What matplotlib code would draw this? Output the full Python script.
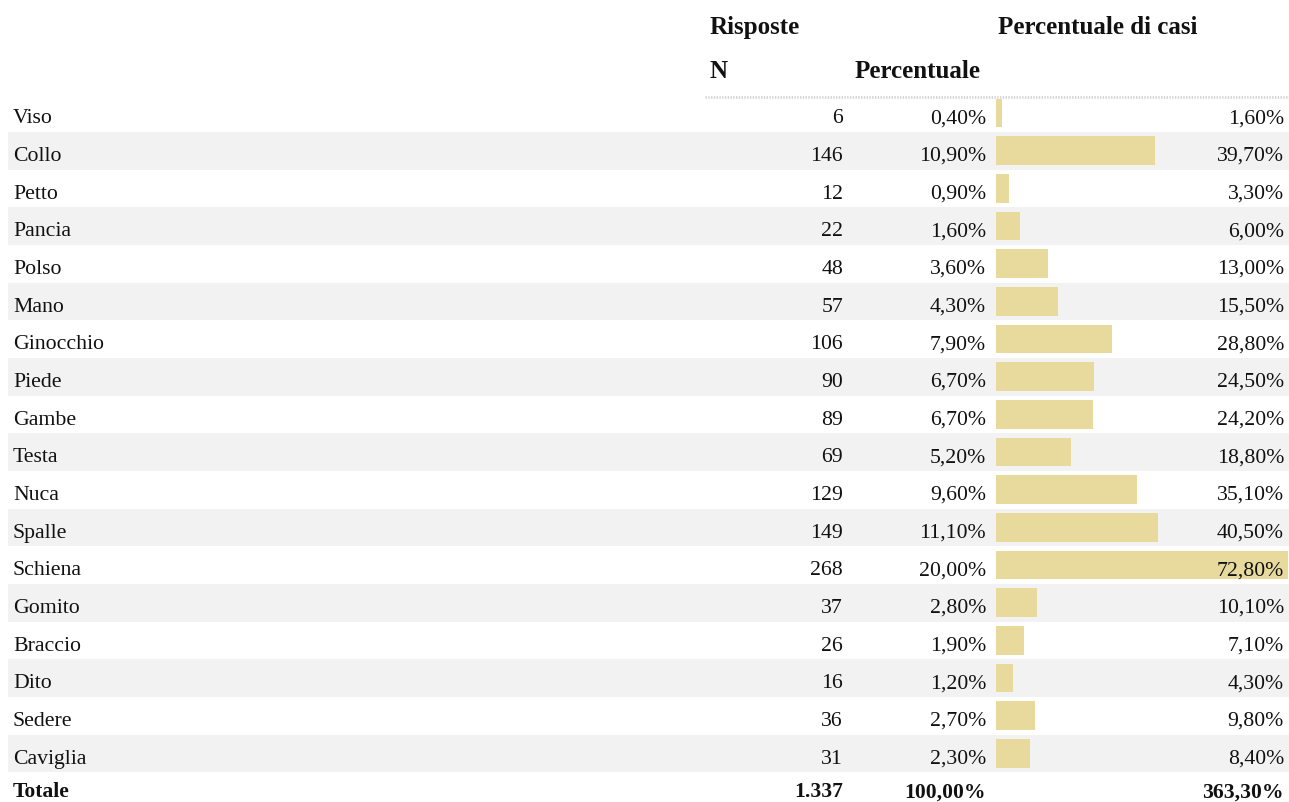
import matplotlib
matplotlib.use("Agg")
import matplotlib.pyplot as plt

plt.rcParams['font.family'] = ['Liberation Serif', 'DejaVu Serif']

parts = ["Viso", "Collo", "Petto", "Pancia", "Polso", "Mano", "Ginocchio", "Piede",
         "Gambe", "Testa", "Nuca", "Spalle", "Schiena", "Gomito", "Braccio", "Dito",
         "Sedere", "Caviglia"]
n_resp = [6, 146, 12, 22, 48, 57, 106, 90, 89, 69, 129, 149, 268, 37, 26, 16, 36, 31]
pct_resp = [0.40, 10.90, 0.90, 1.60, 3.60, 4.30, 7.90, 6.70, 6.70, 5.20, 9.60, 11.10,
            20.00, 2.80, 1.90, 1.20, 2.70, 2.30]
pct_cases = [1.60, 39.70, 3.30, 6.00, 13.00, 15.50, 28.80, 24.50, 24.20, 18.80, 35.10,
             40.50, 72.80, 10.10, 7.10, 4.30, 9.80, 8.40]
total_label = "Totale"
total_n = "1.337"
total_pct = "100,00%"
total_cases = "363,30%"


def fmt_pct(v):
    return f"{v:.2f}".replace(".", ",") + "%"


W, H = 1289, 802
row_h = 37.67
first_row = 113
top = -first_row / row_h
bottom = (H - first_row) / row_h

fig = plt.figure(figsize=(W / 100, H / 100), dpi=100)

# layer 0: row stripes
bg = fig.add_axes([0, 0, 1, 1], zorder=0)
bg.set_xlim(0, W)
bg.set_ylim(bottom, top)
bg.axis("off")
for i in range(len(parts)):
    if i % 2 == 1:
        bg.axhspan(i - 0.5, i + 0.5, xmin=8 / W, xmax=1, color="#f2f2f2", lw=0)

# layer 1: bars
bx = fig.add_axes([996 / W, 0, (1288 - 996) / W, 1], zorder=1)
bx.patch.set_alpha(0)
bx.set_xlim(0, max(pct_cases))
bx.set_ylim(bottom, top)
bx.axis("off")
bx.barh(range(len(parts)), pct_cases, height=0.76, color="#e8da9d", lw=0)

# layer 2: text
ax = fig.add_axes([0, 0, 1, 1], zorder=2)
ax.patch.set_alpha(0)
ax.set_xlim(0, W)
ax.set_ylim(bottom, top)
ax.axis("off")

txt = "#111111"
fs = 15.7   # body
fh = 18     # header
ft = 15.6   # total row
base = 0.273  # baseline offset below row centre

# header
ax.text(710, -2.089, "Risposte", fontsize=fh, fontweight="bold", color=txt, va="baseline")
ax.text(998, -2.089, "Percentuale di casi", fontsize=fh, fontweight="bold", color=txt, va="baseline")
ax.text(710, -0.921, "N", fontsize=fh, fontweight="bold", color=txt, va="baseline")
ax.text(855, -0.921, "Percentuale", fontsize=fh, fontweight="bold", color=txt, va="baseline")
ax.plot([705, W], [-0.433, -0.433], color="#d4d4d4", lw=2, ls=(0, (0.5, 0.5)))

# body
for i, name in enumerate(parts):
    y = i + base
    ax.text(13, y, name, fontsize=fs, color=txt, va="baseline")
    ax.text(843, y, str(n_resp[i]), fontsize=fs, color=txt, va="baseline", ha="right")
    ax.text(986, y, fmt_pct(pct_resp[i]), fontsize=fs, color=txt, va="baseline", ha="right")
    ax.text(1284, y, fmt_pct(pct_cases[i]), fontsize=fs, color=txt, va="baseline", ha="right")

# total row, lifted a little so the commas stay inside the picture
t = len(parts) + 0.17
ax.text(13, t, total_label, fontsize=ft, fontweight="bold", color=txt, va="baseline")
ax.text(843, t, total_n, fontsize=ft, fontweight="bold", color=txt, va="baseline", ha="right")
ax.text(986, t, total_pct, fontsize=ft, fontweight="bold", color=txt, va="baseline", ha="right")
ax.text(1284, t, total_cases, fontsize=ft, fontweight="bold", color=txt, va="baseline", ha="right")

fig.savefig("out.png", dpi=100)
